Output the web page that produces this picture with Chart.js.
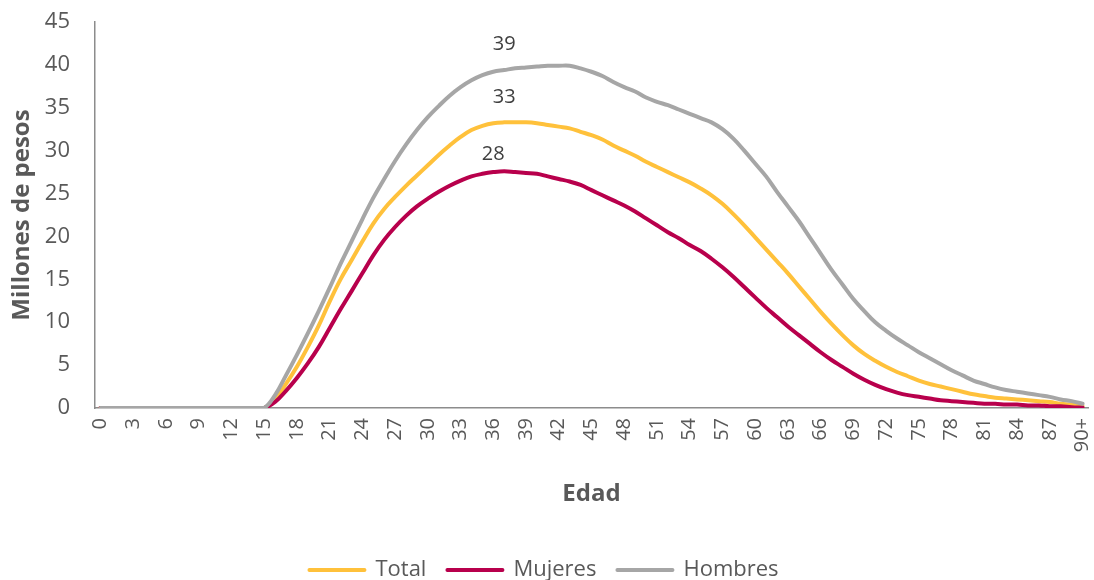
<!DOCTYPE html>
<html>
<head>
<meta charset="utf-8">
<script src="https://cdn.jsdelivr.net/npm/chart.js@4"></script>
<style>
  html, body { margin: 0; padding: 0; background: #fff; }
  #wrap { width: 1094px; height: 580px; }
</style>
</head>
<body>
<div id="wrap"><canvas id="chart"></canvas></div>
<script>
// edades 0..90+
const ages = [];
for (let a = 0; a < 90; a++) ages.push(String(a));
ages.push('90+');

const total = [
  0, 0, 0, 0, 0, 0, 0, 0, 0, 0, 0, 0, 0, 0, 0, 0,
  1.0, 2.8, 4.8, 7.1, 9.6, 12.4, 15.0, 17.2, 19.4, 21.5,
  23.2, 24.6, 25.9, 27.1, 28.3, 29.5, 30.6, 31.6, 32.4, 32.9,
  33.2, 33.3, 33.3, 33.3, 33.2, 33.0, 32.8, 32.6, 32.2, 31.8,
  31.3, 30.6, 30.0, 29.4, 28.7, 28.1, 27.5, 26.9, 26.3, 25.6,
  24.8, 23.8, 22.6, 21.3, 19.9, 18.5, 17.1, 15.7, 14.2, 12.7,
  11.2, 9.8, 8.5, 7.3, 6.3, 5.5, 4.8, 4.2, 3.7, 3.2,
  2.8, 2.5, 2.2, 1.9, 1.6, 1.4, 1.2, 1.1, 1.0, 0.9,
  0.8, 0.7, 0.5, 0.4, 0.2
];

const mujeres = [
  0, 0, 0, 0, 0, 0, 0, 0, 0, 0, 0, 0, 0, 0, 0, 0,
  0.7, 2.0, 3.5, 5.2, 7.1, 9.3, 11.5, 13.6, 15.7, 17.8,
  19.6, 21.1, 22.4, 23.5, 24.4, 25.2, 25.9, 26.5, 27.0, 27.3,
  27.5, 27.6, 27.5, 27.4, 27.3, 27.0, 26.7, 26.4, 26.0, 25.4,
  24.8, 24.2, 23.6, 22.9, 22.1, 21.3, 20.5, 19.8, 19.0, 18.3,
  17.4, 16.4, 15.3, 14.1, 12.9, 11.7, 10.6, 9.5, 8.5, 7.5,
  6.5, 5.6, 4.8, 4.0, 3.3, 2.7, 2.2, 1.8, 1.5, 1.3,
  1.1, 0.9, 0.8, 0.7, 0.6, 0.5, 0.5, 0.4, 0.4, 0.3,
  0.3, 0.2, 0.2, 0.1, 0.05
];

const hombres = [
  0, 0, 0, 0, 0, 0, 0, 0, 0, 0, 0, 0, 0, 0, 0, 0,
  1.5, 3.8, 6.2, 8.7, 11.3, 14.0, 16.8, 19.4, 22.0, 24.5,
  26.7, 28.8, 30.7, 32.4, 33.9, 35.2, 36.4, 37.4, 38.2, 38.8,
  39.2, 39.4, 39.6, 39.7, 39.8, 39.9, 39.9, 39.9, 39.6, 39.2,
  38.7, 38.0, 37.4, 36.9, 36.2, 35.7, 35.3, 34.8, 34.3, 33.8,
  33.3, 32.5, 31.4, 30.0, 28.5, 27.0, 25.2, 23.5, 21.8, 19.9,
  18.0, 16.1, 14.4, 12.7, 11.3, 10.0, 9.0, 8.1, 7.3, 6.5,
  5.8, 5.1, 4.4, 3.8, 3.2, 2.8, 2.4, 2.1, 1.9, 1.7,
  1.5, 1.3, 1.0, 0.8, 0.5
];

// etiquetas de los picos: [índice de edad, texto]
const peakTotal = [37, '33'];
const peakMujeres = [36, '28'];
const peakHombres = [37, '39'];

const textColor = '#595959';
const axisColor = '#8c8c8c';
const fontFamily = "'Open Sans', 'Noto Sans', sans-serif";

// dibuja el número encima del punto indicado
const peakLabels = {
  id: 'peakLabels',
  afterDatasetsDraw(chart) {
    const ctx = chart.ctx;
    ctx.save();
    ctx.font = '20px ' + fontFamily;
    ctx.fillStyle = '#404040';
    ctx.textAlign = 'center';
    ctx.textBaseline = 'middle';
    chart.data.datasets.forEach((ds, i) => {
      if (!ds.peak) return;
      const pt = chart.getDatasetMeta(i).data[ds.peak[0]];
      ctx.fillText(ds.peak[1], pt.x, pt.y - ds.peakGap);
    });
    ctx.restore();
  }
};

// quitar el relleno automático que añaden las etiquetas de los ejes
function noEdgePadding(scale) {
  scale.paddingTop = 0;
  scale.paddingBottom = 0;
  scale.paddingLeft = 0;
  scale.paddingRight = 0;
}

new Chart(document.getElementById('chart'), {
  type: 'line',
  data: {
    labels: ages,
    datasets: [
      {
        label: 'Total', data: total, peak: peakTotal, peakGap: 25,
        borderColor: '#FFC13B', backgroundColor: '#FFC13B', order: 2
      },
      {
        label: 'Mujeres', data: mujeres, peak: peakMujeres, peakGap: 18,
        borderColor: '#B8004C', backgroundColor: '#B8004C', order: 1
      },
      {
        label: 'Hombres', data: hombres, peak: peakHombres, peakGap: 26,
        borderColor: '#A6A6A6', backgroundColor: '#A6A6A6', order: 0
      }
    ]
  },
  options: {
    responsive: true,
    maintainAspectRatio: false,
    animation: false,
    elements: {
      line: { borderWidth: 4, tension: 0.4, borderCapStyle: 'round' },
      point: { radius: 0 }
    },
    layout: { padding: { top: 22, right: 6, left: 0, bottom: -11 } },
    scales: {
      x: {
        offset: true,
        grid: { display: false, drawTicks: false },
        border: { display: true, color: axisColor, width: 1.5 },
        ticks: {
          autoSkip: false,
          minRotation: 90,
          maxRotation: 90,
          padding: 10,
          color: textColor,
          font: { family: fontFamily, size: 20 },
          callback: (v, i) => (i % 3 === 0 ? ages[i] : '')
        },
        title: {
          display: true,
          text: 'Edad',
          color: textColor,
          font: { family: fontFamily, size: 24, weight: 'bold' },
          padding: { top: 10, bottom: 29 }
        },
        afterFit: scale => { scale.height = 130; noEdgePadding(scale); }
      },
      y: {
        min: 0,
        max: 45,
        grid: { display: false, drawTicks: false },
        border: { display: true, color: axisColor, width: 1.5 },
        ticks: {
          stepSize: 5,
          padding: 25,
          color: textColor,
          font: { family: fontFamily, size: 22 }
        },
        title: {
          display: true,
          text: 'Millones de pesos',
          color: textColor,
          font: { family: fontFamily, size: 24, weight: 'bold' },
          padding: { top: 8, bottom: 0 }
        },
        afterFit: scale => { scale.width = 95; noEdgePadding(scale); }
      }
    },
    plugins: {
      tooltip: { enabled: false },
      legend: {
        position: 'bottom',
        labels: {
          usePointStyle: true,
          pointStyle: 'line',
          pointStyleWidth: 55,
          boxHeight: 4,
          padding: 21,
          color: textColor,
          font: { family: fontFamily, size: 22 },
          sort: (a, b) => a.datasetIndex - b.datasetIndex,
          // líneas gruesas en la leyenda
          generateLabels: chart =>
            Chart.defaults.plugins.legend.labels.generateLabels(chart).map(item => {
              const ds = chart.data.datasets[item.datasetIndex];
              return { ...item, lineWidth: 4, strokeStyle: ds.borderColor, lineCap: 'round' };
            })
        }
      }
    }
  },
  plugins: [peakLabels]
});
</script>
</body>
</html>
